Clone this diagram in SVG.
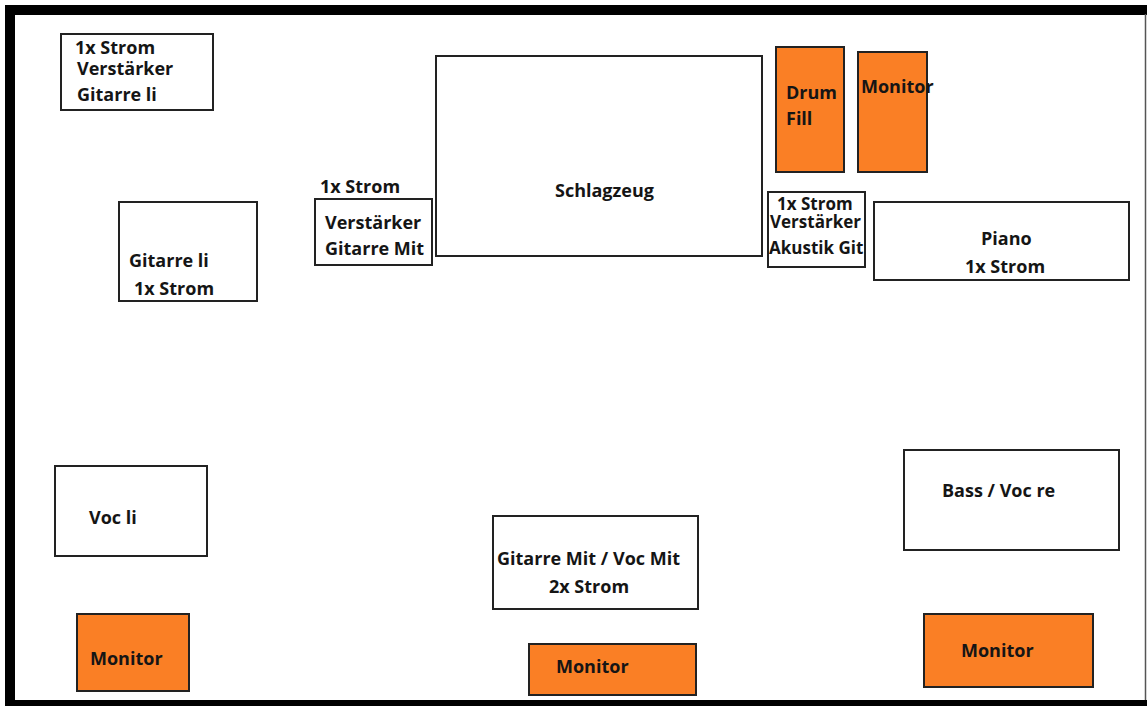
<svg xmlns="http://www.w3.org/2000/svg" width="1147" height="706" viewBox="0 0 1147 706">
<style>
.box{fill:#fff;stroke:#222;stroke-width:2}
.or{fill:#FA7F25;stroke:#222;stroke-width:2}
text{font-family:"Open Sans",Lato,"Liberation Sans",sans-serif;font-weight:bold;font-size:18px;fill:#151515}
.sm{font-size:17px}
</style>
<rect x="0" y="0" width="1147" height="706" fill="#fff"/>
<g id="frame">
<rect x="5" y="5" width="1142" height="10" fill="#000"/>
<rect x="5" y="5" width="10" height="701" fill="#000"/>
<rect x="5" y="700" width="1142" height="6" fill="#000"/>
<line x1="1145.5" y1="14" x2="1145.5" y2="700" stroke="#555" stroke-width="1.5"/>
</g>
<g id="amp-gitarre-li"><rect class="box" x="61" y="34" width="152" height="76"/><text x="75" y="54">1x Strom</text><text x="77" y="75">Verstärker</text><text x="77" y="101">Gitarre li</text></g>
<g id="strom-mit"><text x="320" y="193">1x Strom</text></g>
<g id="amp-gitarre-mit"><rect class="box" x="315" y="199" width="117" height="66"/><text x="325" y="229">Verstärker</text><text x="325" y="255">Gitarre Mit</text></g>
<g id="schlagzeug"><rect class="box" x="436" y="56" width="326" height="200"/><text x="555" y="197">Schlagzeug</text></g>
<g id="drum-fill"><rect class="or" x="776" y="47" width="68" height="125"/><text x="786" y="99">Drum</text><text x="786" y="125">Fill</text></g>
<g id="monitor-top"><rect class="or" x="858" y="52" width="69" height="120"/><text x="861" y="93">Monitor</text></g>
<g id="amp-akustik"><rect class="box" x="768" y="192" width="97" height="75"/><text class="sm" x="777" y="210">1x Strom</text><text class="sm" x="770" y="228">Verstärker</text><text class="sm" x="769" y="254">Akustik Git</text></g>
<g id="piano"><rect class="box" x="874" y="202" width="255" height="78"/><text x="981" y="245">Piano</text><text x="965" y="273">1x Strom</text></g>
<g id="gitarre-li"><rect class="box" x="119" y="202" width="138" height="99"/><text x="129" y="267">Gitarre li</text><text x="134" y="295">1x Strom</text></g>
<g id="voc-li"><rect class="box" x="55" y="466" width="152" height="90"/><text x="89" y="524">Voc li</text></g>
<g id="gitarre-mit"><rect class="box" x="493" y="516" width="205" height="93"/><text x="497" y="565">Gitarre Mit / Voc Mit</text><text x="549" y="593">2x Strom</text></g>
<g id="bass"><rect class="box" x="904" y="450" width="215" height="100"/><text x="942" y="497">Bass / Voc re</text></g>
<g id="monitor-li"><rect class="or" x="77" y="614" width="112" height="77"/><text x="90" y="665">Monitor</text></g>
<g id="monitor-mit"><rect class="or" x="529" y="644" width="167" height="51"/><text x="556" y="673">Monitor</text></g>
<g id="monitor-re"><rect class="or" x="924" y="614" width="169" height="73"/><text x="961" y="657">Monitor</text></g>
<g id="connectors"/>
</svg>
